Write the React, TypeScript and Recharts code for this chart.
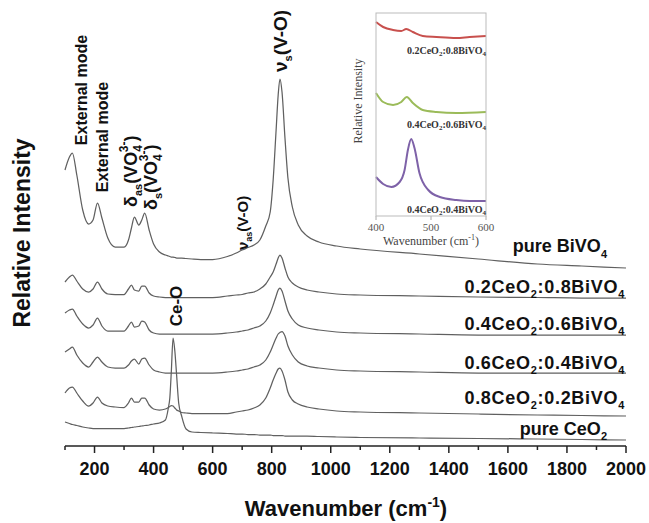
import React from 'react';
import { LineChart, Line, XAxis, YAxis } from 'recharts';

if (typeof document !== 'undefined') document.body.style.margin = '0';

// Raman shift grid (cm-1) shared by the stacked spectra
const wavenumbers = [
  100, 115, 125, 140, 160, 180, 195, 210, 225, 245,
  270, 300, 315, 325, 335, 350, 360, 370, 385, 400,
  420, 440, 450, 455, 460, 466, 472, 478, 485, 495,
  510, 530, 560, 600, 650, 680, 700, 720, 740, 760,
  780, 795, 805, 815, 822, 828, 835, 845, 855, 870,
  890, 920, 960, 1020, 1100, 1300, 1500, 1700, 1850, 2000,
];

// stacked intensities (a.u., offsets included)
const pureBiVO4 = [
  276, 289, 293, 271, 236, 222, 226, 243, 228, 208,
  199, 199, 206, 218, 229, 221, 226, 233, 216, 202,
  194, 191, 190, 189.5, 189, 189, 188.5, 188, 188, 188,
  187.5, 187, 186.5, 186.5, 189.5, 193, 196, 198.5, 201, 206,
  220, 234, 266, 316, 351, 367, 354, 308, 268, 239,
  221, 210, 204, 200, 197, 192, 187, 182, 180, 178,
];
const ce02bi08 = [
  164, 169, 171, 165, 157, 154, 157, 164, 157, 152,
  151.5, 151.5, 157, 161, 156, 155, 160, 160, 153, 150,
  149, 148.5, 148.5, 148.5, 148.5, 148.5, 148.5, 148.5, 148.5, 148.5,
  148.5, 148.5, 148.5, 148.5, 150, 151, 151.5, 153, 154, 157,
  162, 169, 174, 182, 188, 191, 188, 178, 169, 163,
  159, 156, 154, 152, 151, 150, 149, 148.5, 148, 148,
];
const ce04bi06 = [
  133, 136, 137, 130, 122, 118, 121, 128, 120, 115,
  115, 115, 120, 124, 119, 120, 125, 124, 116, 113,
  112, 112, 112, 112, 112, 112, 112, 112, 112, 112,
  112, 112, 112, 112, 113, 114, 115, 116, 118, 120,
  125, 133, 141, 150, 156, 158, 155, 145, 135, 127,
  121, 118, 116, 114, 113, 112, 111, 111, 111, 111,
];
const ce06bi04 = [
  94, 97, 99, 91, 83, 79, 84, 89, 84, 79,
  78, 78, 81, 85, 87, 82, 87, 88, 81, 76,
  74, 73, 73, 73, 73, 73, 73, 73, 73, 73,
  73, 73, 73, 73, 74, 75, 76, 77, 79, 81,
  86, 94, 101, 108, 112, 113.5, 114.5, 110, 100, 91,
  84, 80, 78, 76, 75, 74, 73, 73, 73, 73,
];
const ce08bi02 = [
  53, 58, 59, 53, 45, 40, 43, 49, 43, 40,
  39, 38.5, 43, 48, 44, 44, 48, 48, 41, 37,
  36, 37, 38.5, 39.5, 40.5, 40, 38, 36, 35, 33.5,
  33, 32.5, 32.5, 32.5, 32.5, 34, 35, 36, 38, 41,
  48, 58, 66, 73, 77, 78, 75, 66, 54, 46,
  42, 39, 37, 35, 34, 33, 32, 31, 30.5, 30,
];
const pureCeO2 = [
  24, 22.5, 21.5, 20.5, 19, 18, 17.5, 17.5, 17.5, 17.5,
  17.5, 17.5, 18, 18.5, 19, 19.5, 20, 20.5, 21, 22,
  23, 26, 38, 48, 74, 108, 95, 71, 43, 30,
  17, 14, 13.5, 13, 12.5, 12, 12, 11.5, 11.5, 11,
  11, 11, 10.5, 10.5, 10.5, 10.5, 10.5, 10, 10, 10,
  10, 10, 9.5, 9, 8.5, 8, 7.5, 7, 6.5, 6,
];

const mainTicks = [100, 200, 300, 400, 500, 600, 700, 800, 900, 1000, 1100, 1200, 1300, 1400, 1500, 1600, 1700, 1800, 1900, 2000];

// inset (400-600 cm-1)
const insetRedW = [400, 413, 431, 446, 455, 467, 485, 510, 546, 570, 600];
const insetRedV = [194, 189, 186, 185, 187, 184, 180, 179, 178, 179, 180];
const insetGreenW = [400, 413, 431, 446, 456, 467, 485, 510, 546, 600];
const insetGreenV = [123, 114, 111, 114, 119, 113, 106, 104, 103, 104];
const insetPurpleW = [400, 413, 428, 443, 452, 458, 464, 470, 479, 495, 516, 546, 570, 600];
const insetPurpleV = [39, 32, 29, 34, 46, 66, 77, 68, 43, 26, 19, 16, 15, 15];
const insetTicks = [400, 500, 600];

const mainData = wavenumbers.map((w, i) => ({
  w,
  bi: pureBiVO4[i],
  c2: ce02bi08[i],
  c4: ce04bi06[i],
  c6: ce06bi04[i],
  c8: ce08bi02[i],
  ce: pureCeO2[i],
}));
const toPts = (ws: number[], vs: number[]) => ws.map((w, i) => ({ w, v: vs[i] }));

const SANS = '"Liberation Sans", Arial, sans-serif';
const SERIF = '"Liberation Serif", "Times New Roman", serif';
const LINE = '#606060';

function MainTick(props: any) {
  const { x, y, payload } = props;
  const major = payload.value % 200 === 0;
  return (
    <g>
      <line x1={x} x2={x} y1={y} y2={y + (major ? 7 : 4)} stroke="#222" strokeWidth={1.5} />
      {major && (
        <text x={x} y={y + 29} textAnchor="middle" fontFamily={SANS} fontWeight="bold" fontSize={18} fill="#111">
          {payload.value}
        </text>
      )}
    </g>
  );
}

function InsetTick(props: any) {
  const { x, y, payload } = props;
  return (
    <g>
      <line x1={x} x2={x} y1={y} y2={y + 4} stroke="#aaa" />
      <text x={x} y={y + 15} textAnchor="middle" fontFamily={SERIF} fontSize={11} fill="#555">
        {payload.value}
      </text>
    </g>
  );
}

const series = ['bi', 'c2', 'c4', 'c6', 'c8', 'ce'];

function Compound({ x, y, a, b }: { x: number; y: number; a: string; b: string }) {
  return (
    <text x={x} y={y} textAnchor="end" fontFamily={SANS} fontWeight="bold" fontSize={18} letterSpacing={0.7} fill="#111">
      {a}CeO<tspan fontSize={11} dy={5}>2</tspan>
      <tspan dy={-5}>:{b}BiVO</tspan>
      <tspan fontSize={11} dy={5}>4</tspan>
    </text>
  );
}

function InsetLabel({ y, a, b }: { y: number; a: string; b: string }) {
  return (
    <text x={486} y={y} textAnchor="end" fontFamily={SERIF} fontWeight="bold" fontSize={10} fill="#333">
      {a}CeO<tspan fontSize={7} dy={2}>2</tspan>
      <tspan dy={-2}>:{b}BiVO</tspan>
      <tspan fontSize={7} dy={2}>4</tspan>
    </text>
  );
}

export default function App() {
  return (
    <div style={{ position: 'relative', width: 649, height: 523, background: '#fff' }}>
      <div style={{ position: 'absolute', left: 0, top: 0 }}>
        <LineChart width={649} height={523} data={mainData} margin={{ top: 28, right: 23, bottom: 0, left: 65 }}>
          <XAxis
            dataKey="w"
            type="number"
            domain={[100, 2000]}
            ticks={mainTicks}
            interval={0}
            height={77}
            tickSize={0}
            tickMargin={0}
            tickLine={false}
            tick={<MainTick />}
            axisLine={{ stroke: '#222', strokeWidth: 1.5 }}
          />
          <YAxis type="number" domain={[0, 418]} width={0} tick={false} tickLine={false} axisLine={{ stroke: '#222', strokeWidth: 1.5 }} />
          {series.map((k) => (
            <Line key={k} type="monotone" dataKey={k} stroke={LINE} strokeWidth={1.25} dot={false} isAnimationActive={false} />
          ))}
        </LineChart>
      </div>

      <div style={{ position: 'absolute', left: 0, top: 0 }}>
        <LineChart width={649} height={523} margin={{ top: 13, right: 163, bottom: 0, left: 376 }}>
          <XAxis
            dataKey="w"
            type="number"
            domain={[400, 600]}
            ticks={insetTicks}
            interval={0}
            height={307}
            tickSize={0}
            tickMargin={0}
            tickLine={false}
            tick={<InsetTick />}
            axisLine={false}
            allowDuplicatedCategory={false}
          />
          <YAxis type="number" domain={[0, 203]} width={0} hide />
          <Line data={toPts(insetRedW, insetRedV)} type="monotone" dataKey="v" stroke="#c8504d" strokeWidth={2} dot={false} isAnimationActive={false} />
          <Line data={toPts(insetGreenW, insetGreenV)} type="monotone" dataKey="v" stroke="#9bbb59" strokeWidth={2} dot={false} isAnimationActive={false} />
          <Line data={toPts(insetPurpleW, insetPurpleV)} type="monotone" dataKey="v" stroke="#7e62a8" strokeWidth={2} dot={false} isAnimationActive={false} />
        </LineChart>
      </div>

      <svg width={649} height={523} style={{ position: 'absolute', left: 0, top: 0, pointerEvents: 'none' }}>
        {/* inset frame and texts */}
        <rect x={376} y={13} width={110} height={203} fill="none" stroke="#bbb" />
        <text transform="translate(362,101) rotate(-90)" textAnchor="middle" fontFamily={SERIF} fontSize={12} fill="#444">
          Relative Intensity
        </text>
        <text x={431} y={245} textAnchor="middle" fontFamily={SERIF} fontSize={12} fill="#444">
          Wavenumber (cm<tspan fontSize={8} dy={-5}>-1</tspan>
          <tspan dy={5}>)</tspan>
        </text>
        <InsetLabel y={54} a="0.2" b="0.8" />
        <InsetLabel y={128} a="0.4" b="0.6" />
        <InsetLabel y={213} a="0.4" b="0.4" />

        {/* axis titles */}
        <text transform="translate(30,233) rotate(-90)" textAnchor="middle" fontFamily={SANS} fontWeight="bold" fontSize={23} fill="#111">
          Relative Intensity
        </text>
        <text x={346} y={516} textAnchor="middle" fontFamily={SANS} fontWeight="bold" fontSize={22} fill="#111">
          Wavenumber (cm<tspan fontSize={14} dy={-9}>-1</tspan>
          <tspan dy={9}>)</tspan>
        </text>

        {/* peak assignments */}
        <g fontFamily={SANS} fontWeight="bold" fill="#111">
          <text transform="translate(87,90) rotate(-90)" textAnchor="middle" fontSize={16}>External mode</text>
          <text transform="translate(108,137) rotate(-90)" textAnchor="middle" fontSize={16}>External mode</text>
          <text transform="translate(137,207) rotate(-90)" fontSize={18}>
            δ<tspan fontSize={11} dy={5}>as</tspan>
            <tspan dy={-5}>(VO</tspan>
            <tspan fontSize={12} dy={5}>4</tspan>
            <tspan fontSize={12} dx={-7} dy={-14}>3-</tspan>
            <tspan dy={9}>)</tspan>
          </text>
          <text transform="translate(157,210) rotate(-90)" fontSize={18}>
            δ<tspan fontSize={11} dy={5}>s</tspan>
            <tspan dy={-5}>(VO</tspan>
            <tspan fontSize={12} dy={5}>4</tspan>
            <tspan fontSize={12} dx={-7} dy={-14}>3-</tspan>
            <tspan dy={9}>)</tspan>
          </text>
          <text transform="translate(248,250) rotate(-90)" fontSize={15}>
            ν<tspan fontSize={9} dy={4}>as</tspan>
            <tspan dy={-4}>(V-O)</tspan>
          </text>
          <text transform="translate(287,72) rotate(-90)" fontSize={19}>
            ν<tspan fontSize={11} dy={5}>s</tspan>
            <tspan dy={-5}>(V-O)</tspan>
          </text>
          <text transform="translate(182,306) rotate(-90)" textAnchor="middle" fontSize={17}>Ce-O</text>
        </g>

        {/* sample labels */}
        <text x={607} y={252} textAnchor="end" fontFamily={SANS} fontWeight="bold" fontSize={18} fill="#111">
          pure BiVO<tspan fontSize={11} dy={6}>4</tspan>
        </text>
        <Compound x={625} y={293} a="0.2" b="0.8" />
        <Compound x={625} y={330} a="0.4" b="0.6" />
        <Compound x={625} y={369} a="0.6" b="0.4" />
        <Compound x={625} y={404} a="0.8" b="0.2" />
        <text x={607} y={435} textAnchor="end" fontFamily={SANS} fontWeight="bold" fontSize={18} fill="#111">
          pure CeO<tspan fontSize={11} dy={5}>2</tspan>
        </text>
      </svg>
    </div>
  );
}
